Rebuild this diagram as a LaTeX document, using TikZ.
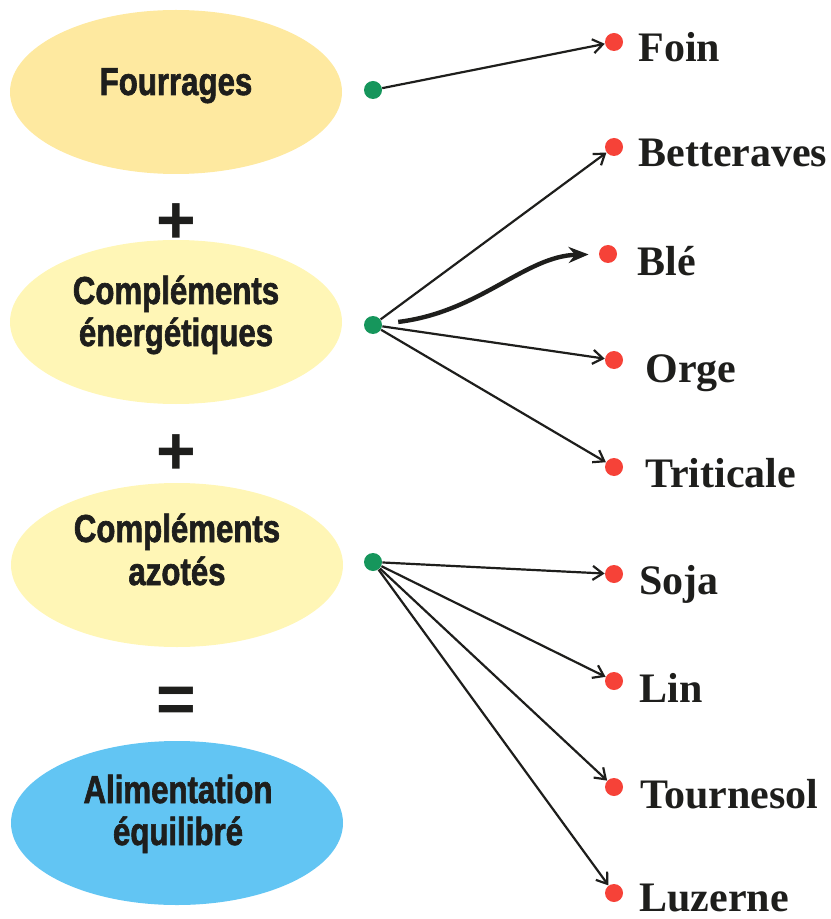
\documentclass[tikz,border=0pt]{standalone}
\usepackage{fontspec}
\setmainfont{Liberation Serif}
\newfontfamily\condfont[FakeStretch=0.8,FakeBold=1.6]{Liberation Sans}
\newfontfamily\signfont{Liberation Sans}
\usetikzlibrary{shapes.geometric,arrows.meta}
\definecolor{fourrcol}{RGB}{254,233,160}
\definecolor{complcol}{RGB}{255,246,182}
\definecolor{alimcol}{RGB}{98,197,243}
\definecolor{dotgreen}{RGB}{22,150,92}
\definecolor{dotred}{RGB}{246,66,56}
\definecolor{txtcol}{RGB}{30,30,28}
\begin{document}
\begin{tikzpicture}[x=0.5pt, y=-0.5pt, >={Straight Barb[length=5pt,width=7pt]},
  blob/.style={ellipse, inner sep=0, minimum width=166pt, minimum height=82pt},
  inblob/.style={anchor=base, inner sep=0, text=txtcol,
    font=\condfont\bfseries\fontsize{19.5pt}{21pt}\selectfont},
  signtext/.style={inner sep=0, text=txtcol,
    font=\signfont\bfseries\fontsize{34pt}{34pt}\selectfont},
  gdot/.style={circle, fill=dotgreen, inner sep=0, minimum size=9pt},
  rdot/.style={circle, fill=dotred, inner sep=0, minimum size=9pt},
  food/.style={anchor=base west, inner sep=0, text=txtcol,
    font=\bfseries\fontsize{21pt}{24pt}\selectfont},
  link/.style={->, line width=1.1pt, draw=txtcol}]
  \useasboundingbox (0,0) rectangle (830,919);
  % Ellipses (left column)
  \node[blob, fill=fourrcol] (fourr) at (176,92) {};
  \node[blob, fill=complcol] (energ) at (176,322) {};
  \node[blob, fill=complcol] (azot) at (177,565) {};
  \node[blob, fill=alimcol] (alim) at (177,823) {};
  \node[inblob] (fourrT) at (176,95) {Fourrages};
  \node[inblob] (energT1) at (176,304) {Compléments};
  \node[inblob] (energT2) at (176,346) {énergétiques};
  \node[inblob] (azotT1) at (177,542) {Compléments};
  \node[inblob] (azotT2) at (177,585) {azotés};
  \node[inblob] (alimT1) at (178,803) {Alimentation};
  \node[inblob] (alimT2) at (178,845) {équilibré};
  % Signs between the ellipses
  \node[signtext] (plusA) at (176,224) {+};
  \node[signtext] (plusB) at (176,455) {+};
  \node[signtext] (equal) at (176,705) {=};
  % Green dots
  \node[gdot] (g1) at (373,90) {};
  \node[gdot] (g2) at (373,325) {};
  \node[gdot] (g3) at (373,562) {};
  % Red dots and food names
  \node[rdot] (foin) at (614,42) {};
  \node[rdot] (bett) at (614,147) {};
  \node[rdot] (ble) at (608,254) {};
  \node[rdot] (orge) at (614,360) {};
  \node[rdot] (trit) at (614,467) {};
  \node[rdot] (soja) at (614,574) {};
  \node[rdot] (lin) at (614,681) {};
  \node[rdot] (tourn) at (614,787) {};
  \node[rdot] (luz) at (614,893) {};
  \node[food] (foinT) at (638,62) {Foin};
  \node[food] (bettT) at (638,167) {Betteraves};
  \node[food] (bleT) at (637,276) {Blé};
  \node[food] (orgeT) at (645,382) {Orge};
  \node[food] (tritT) at (645,487) {Triticale};
  \node[food] (sojaT) at (639,594) {Soja};
  \node[food] (linT) at (639,702) {Lin};
  \node[food] (tournT) at (640,808) {Tournesol};
  \node[food] (luzT) at (639,911) {Luzerne};
  % Arrows
  \draw[link] (g1) -- (foin);
  \draw[link] (g2) -- (bett);
  \draw[link] (g2) -- (orge);
  \draw[link] (g2) -- (trit);
  \draw[link] (g3) -- (soja);
  \draw[link] (g3) -- (lin);
  \draw[link] (g3) -- (tourn);
  \draw[link] (g3) -- (luz);
  \draw[line width=2.2pt, draw=txtcol, -{Stealth[length=10pt,width=8pt]},
    shorten <=8pt, shorten >=5pt]
    (g2) .. controls (480,312) and (525,256) .. (ble);
\end{tikzpicture}
\end{document}
